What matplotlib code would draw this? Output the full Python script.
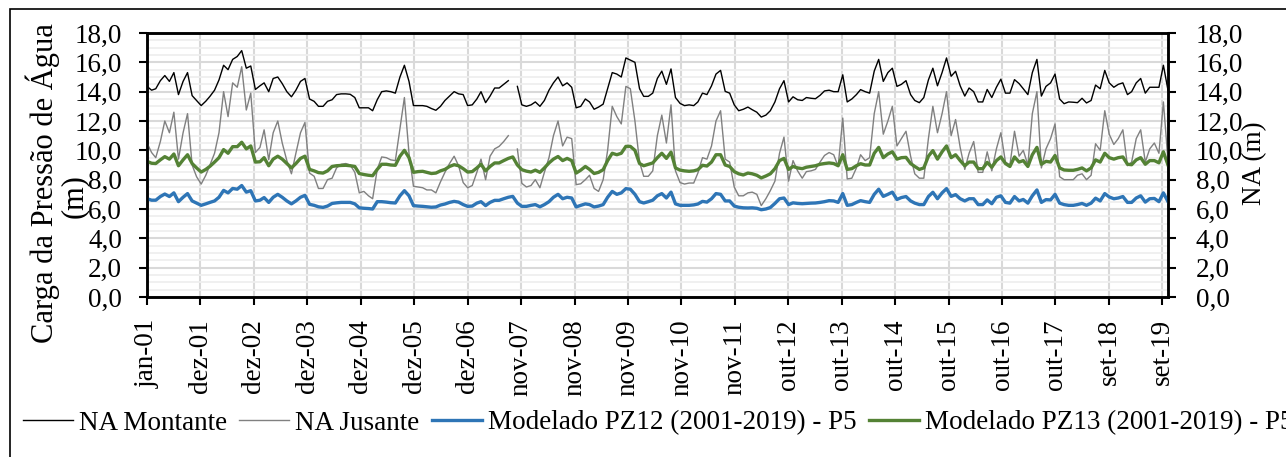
import numpy as np
import pandas as pd
import matplotlib
matplotlib.use("Agg")
import matplotlib.pyplot as plt
from matplotlib.patches import Rectangle

plt.rcParams["font.family"] = ["Liberation Serif", "DejaVu Serif"]

# monthly values, jan/2001 .. nov/2019 (nan = missing reading)
na_montante = [
    14.36, 14.1, 14.2, 14.75, 15.1, 14.7, 15.3, 13.8, 14.7, 15.3, 13.73, 13.4,
    13.05, 13.35, 13.68, 14.1, 14.8, 15.8, 15.5, 16.2, 16.4, 16.8, 15.6, 15.75,
    14.15, 14.4, 14.6, 14.0, 14.9, 15.0, 14.55, 14.0, 13.65, 14.1, 14.7, 14.9,
    13.5, 13.34, 13.0, 13.0, 13.34, 13.45, 13.8, 13.85, 13.85, 13.82, 13.6, 12.9,
    12.9, 12.9, 12.7, 13.45, 14.0, 14.05, 14.0, 13.9, 15.0, 15.8, 14.7, 13.05,
    13.05, 13.05, 13.0, 12.85, 12.73, 13.0, 13.4, 13.7, 14.0, 13.85, 13.8, 13.05,
    13.1, 13.5, 14.0, 13.25, 13.7, 14.25, 14.25, 14.5, 14.75, np.nan, 14.36, 13.1,
    13.0, 13.1, 13.3, 13.0, 13.4, 14.1, 14.6, 15.0, 14.4, 14.6, 14.3, 12.9,
    13.0, 13.5, 13.3, 12.8, 12.95, 13.15, 14.2, 15.3, 15.2, 15.0, 16.3, 16.15,
    16.0, 14.2, 13.68, 13.68, 13.9, 14.9, 15.4, 14.5, 15.55, 13.6, 13.2, 13.05,
    13.1, 13.05, 13.3, 13.9, 13.8, 14.4, 15.2, 15.45, 14.02, 13.9, 13.1, 12.7,
    12.8, 12.95, 12.77, 12.6, 12.27, 12.4, 12.7, 13.3, 14.2, 14.75, 13.3, 13.65,
    13.45, 13.4, 13.6, 13.55, 13.52, 13.75, 14.05, 14.1, 14.0, 14.0, 15.15, 13.3,
    13.5, 13.8, 14.14, 14.0, 13.9, 15.4, 16.2, 14.7, 15.3, 15.6, 14.36, 14.5,
    14.75, 13.8, 13.4, 13.25, 13.6, 14.8, 15.6, 14.4, 15.3, 16.3, 15.05, 15.39,
    14.4, 13.7, 14.25, 14.0, 13.3, 13.3, 14.15, 13.6, 14.3, 14.85, 13.9, 13.9,
    14.82, 14.55, 14.2, 13.8, 15.3, 16.2, 13.7, 14.36, 14.6, 15.2, 13.5, 13.18,
    13.3, 13.28, 13.25, 13.55, 13.23, 13.4, 14.45, 14.2, 15.45, 14.6, 14.3, 14.5,
    14.6, 13.8, 14.0, 14.6, 14.9, 13.9, 14.3, 14.3, 14.3, 15.8, 14.1,
]
na_jusante = [
    10.5, 9.85, 9.5, 10.6, 12.0, 11.2, 12.6, 9.4, 11.2, 12.5, 9.0, 8.2,
    7.7, 8.3, 9.0, 9.8, 11.2, 14.0, 12.3, 14.6, 14.3, 15.7, 12.75, 13.9,
    9.85, 10.2, 11.4, 9.36, 11.2, 12.0, 10.5, 9.3, 8.4, 9.8, 11.2, 11.9,
    8.45, 8.23, 7.4, 7.4, 8.0, 8.1, 8.8, 9.05, 9.1, 9.0, 8.5, 7.1,
    7.2, 6.9, 6.7, 8.7, 9.55, 9.5, 9.35, 9.3, 11.5, 13.6, 9.8, 7.55,
    7.5, 7.45, 7.3, 7.3, 7.1, 7.85, 8.5, 9.1, 9.6, 8.95, 7.8, 7.45,
    7.6, 8.5, 9.4, 8.0, 9.6, 10.1, 10.27, 10.6, 11.0, np.nan, 10.09, 7.75,
    7.5, 7.6, 8.0, 7.45, 8.5, 9.5, 11.0, 12.0, 10.3, 10.9, 10.8, 7.66,
    7.72, 8.0, 8.3, 7.4, 7.2, 8.0, 10.0, 13.0, 12.3, 11.8, 14.36, 14.2,
    12.0, 9.2, 8.23, 8.23, 8.6, 11.0, 12.4, 10.5, 13.1, 8.6, 7.8, 7.7,
    7.77, 7.77, 8.45, 9.5, 9.4, 10.3, 12.0, 12.7, 9.4, 9.2, 7.5, 6.9,
    6.9, 7.1, 7.15, 7.0, 6.23, 6.7, 7.25, 7.9, 9.8, 10.9, 7.9, 9.3,
    8.6, 8.1, 8.55, 8.6, 8.7, 9.2, 9.65, 9.85, 9.7, 8.9, 12.2, 8.05,
    8.1, 8.8, 9.7, 9.3, 9.5, 12.5, 14.0, 11.1, 12.0, 13.0, 10.3, 10.8,
    11.3, 9.6, 8.4, 8.1, 8.1, 10.8, 13.0, 11.2, 12.5, 14.0, 11.0, 12.1,
    10.2, 8.7, 9.8, 10.6, 8.5, 8.5, 9.9, 8.6, 10.1, 11.2, 9.2, 9.0,
    11.3, 9.6, 10.0, 9.0, 12.5, 14.0, 8.8, 10.1, 10.8, 11.8, 8.2, 8.0,
    8.0, 8.0, 8.3, 8.4, 8.0, 8.3, 10.45, 10.0, 12.7, 11.1, 10.4, 10.8,
    11.4, 8.95, 9.2, 10.8, 11.4, 9.2, 10.1, 10.5, 9.8, 13.3, 9.3,
]
pz12 = [
    6.7, 6.6, 6.6, 6.85, 7.02, 6.85, 7.1, 6.5, 6.8, 7.05, 6.55, 6.4,
    6.25, 6.35, 6.45, 6.55, 6.8, 7.27, 7.1, 7.4, 7.35, 7.6, 7.15, 7.25,
    6.55, 6.6, 6.78, 6.45, 6.8, 7.0, 6.8, 6.55, 6.35, 6.55, 6.8, 6.93,
    6.32, 6.25, 6.15, 6.11, 6.2, 6.38, 6.42, 6.45, 6.45, 6.45, 6.35, 6.08,
    6.05, 6.03, 6.0, 6.5, 6.5, 6.47, 6.43, 6.41, 6.9, 7.25, 6.9, 6.23,
    6.2, 6.18, 6.15, 6.12, 6.14, 6.27, 6.34, 6.45, 6.52, 6.47, 6.3, 6.18,
    6.2, 6.4, 6.5, 6.23, 6.45, 6.59, 6.59, 6.7, 6.8, 6.86, 6.4, 6.18,
    6.18, 6.25, 6.3, 6.15, 6.3, 6.5, 6.8, 7.0, 6.7, 6.8, 6.75, 6.14,
    6.25, 6.35, 6.3, 6.14, 6.2, 6.3, 6.8, 7.2, 7.0, 7.1, 7.39, 7.35,
    7.0, 6.5, 6.41, 6.5, 6.6, 6.9, 7.05, 6.75, 7.15, 6.35, 6.25, 6.25,
    6.25, 6.28, 6.34, 6.52, 6.47, 6.7, 7.05, 7.0, 6.55, 6.55, 6.2, 6.12,
    6.08, 6.07, 6.08, 6.05, 5.95, 6.0, 6.1, 6.38, 6.7, 6.75, 6.3, 6.42,
    6.38, 6.36, 6.38, 6.4, 6.41, 6.45, 6.5, 6.57, 6.55, 6.45, 7.05, 6.25,
    6.3, 6.45, 6.57, 6.5, 6.45, 7.0, 7.35, 6.86, 7.0, 7.15, 6.65, 6.78,
    6.85, 6.55, 6.4, 6.3, 6.3, 6.85, 7.14, 6.7, 7.1, 7.39, 6.86, 6.98,
    6.7, 6.55, 6.7, 6.7, 6.3, 6.3, 6.62, 6.36, 6.8, 6.9, 6.45, 6.4,
    6.85, 6.55, 6.65, 6.4, 6.9, 7.3, 6.45, 6.64, 6.62, 7.0, 6.4, 6.3,
    6.25, 6.25, 6.3, 6.38, 6.25, 6.4, 6.74, 6.55, 7.05, 6.82, 6.7, 6.75,
    6.85, 6.45, 6.45, 6.75, 6.9, 6.47, 6.7, 6.72, 6.5, 7.1, 6.5,
]
pz13 = [
    9.25, 9.12, 9.1, 9.35, 9.57, 9.4, 9.75, 8.95, 9.35, 9.7, 9.1, 8.8,
    8.52, 8.7, 8.91, 9.2, 9.5, 10.05, 9.8, 10.25, 10.25, 10.55, 10.1, 10.3,
    9.2, 9.22, 9.5, 8.95, 9.4, 9.6, 9.4, 9.1, 8.8, 9.1, 9.45, 9.6,
    8.7, 8.6, 8.48, 8.45, 8.6, 8.9, 8.95, 8.97, 8.98, 8.95, 8.9, 8.42,
    8.35, 8.3, 8.27, 8.7, 9.05, 9.05, 9.0, 8.98, 9.6, 10.0, 9.5, 8.5,
    8.55, 8.57, 8.5, 8.42, 8.45, 8.6, 8.7, 8.9, 9.02, 8.95, 8.75, 8.52,
    8.55, 8.8, 9.05, 8.6, 8.9, 9.14, 9.14, 9.3, 9.45, 9.55, 9.0, 8.68,
    8.58, 8.52, 8.65, 8.5, 8.8, 9.14, 9.4, 9.58, 9.3, 9.45, 9.3, 8.45,
    8.65, 8.9, 8.7, 8.42, 8.5, 8.68, 9.3, 9.8, 9.7, 9.8, 10.27, 10.27,
    10.0, 9.1, 8.95, 9.05, 9.14, 9.5, 9.8, 9.45, 9.88, 8.8, 8.65, 8.6,
    8.57, 8.6, 8.68, 8.98, 8.93, 9.2, 9.7, 9.7, 9.0, 8.9, 8.55, 8.4,
    8.32, 8.45, 8.4, 8.3, 8.12, 8.25, 8.4, 8.75, 9.3, 9.45, 8.7, 8.9,
    8.8, 8.75, 8.85, 8.9, 8.95, 9.05, 9.1, 9.14, 9.1, 8.95, 9.7, 8.7,
    8.75, 8.95, 9.09, 9.0, 9.0, 9.8, 10.2, 9.5, 9.75, 9.9, 9.4, 9.5,
    9.52, 9.1, 8.9, 8.7, 8.8, 9.6, 9.98, 9.4, 9.9, 10.3, 9.5, 9.7,
    9.3, 8.95, 9.2, 9.2, 8.75, 8.75, 9.18, 8.85, 9.3, 9.55, 9.1, 8.9,
    9.55, 9.2, 9.3, 8.9, 9.7, 10.2, 9.05, 9.25, 9.2, 9.65, 8.8, 8.66,
    8.64, 8.64, 8.7, 8.8, 8.6, 8.8, 9.35, 9.2, 9.8, 9.5, 9.4, 9.5,
    9.55, 9.05, 9.02, 9.35, 9.5, 9.05, 9.3, 9.3, 9.15, 9.9, 9.0,
]

meses_pt = ["jan", "fev", "mar", "abr", "mai", "jun",
            "jul", "ago", "set", "out", "nov", "dez"]

datas = pd.date_range("2001-01-01", periods=len(na_montante), freq="MS")
ticks = [datas[0] + pd.Timedelta(days=360 * k) for k in range(20)]
tick_labels = [f"{meses_pt[t.month - 1]}-{t.strftime('%y')}" for t in ticks]

fig = plt.figure(figsize=(12.86, 4.57), dpi=100)
ax = fig.add_axes([147 / 1286, 1 - 297 / 457, (1168 - 147) / 1286, (297 - 33) / 457])

ax.plot(datas, na_montante, color="black", lw=1.0, label="NA Montante", zorder=3)
ax.plot(datas, na_jusante, color="#808080", lw=1.0, label="NA Jusante", zorder=3)
ax.plot(datas, pz12, color="#2E75B6", lw=2.4, label="Modelado PZ12 (2001-2019) - P5", zorder=4)
ax.plot(datas, pz13, color="#548235", lw=2.4, label="Modelado PZ13 (2001-2019) - P5", zorder=4)

ax.set_xlim(datas[0], datas[-1])
ax.set_ylim(0, 18)
ax.set_yticks(np.arange(0, 18.1, 2))
ax.set_yticks(np.arange(0, 18.1, 0.5), minor=True)
ax.set_yticklabels([f"{v:.1f}".replace(".", ",") for v in np.arange(0, 18.1, 2)])
ax.set_xticks(ticks)
ax.set_xticklabels(tick_labels, rotation=90)

ax.grid(which="major", axis="both", color="#d9d9d9", lw=1.5, zorder=0)
ax.grid(which="minor", axis="y", color="#efefef", lw=1.3, zorder=0)
ax.set_axisbelow(True)
for s in ax.spines.values():
    s.set_linewidth(1.8)
    s.set_color("black")

ax.tick_params(axis="y", which="major", labelsize=19.5, length=6, width=1.5, pad=12)
ax.tick_params(axis="y", which="minor", length=0)
ax.tick_params(axis="x", labelsize=19.5, length=6, width=1.5, pad=10)

ax2 = ax.twinx()
ax2.set_ylim(0, 18)
ax2.set_yticks(np.arange(0, 18.1, 2))
ax2.set_yticklabels([f"{v:.1f}".replace(".", ",") for v in np.arange(0, 18.1, 2)])
ax2.tick_params(axis="y", labelsize=19.5, length=6, width=1.5, pad=14)
for s in ax2.spines.values():
    s.set_linewidth(1.8)

fig.text(43 / 1286, 1 - 183 / 457, "Carga da Pressão de Água", rotation=90,
         ha="center", va="center", fontsize=22)
fig.text(74 / 1286, 1 - 196 / 457, "(m)", rotation=90,
         ha="center", va="center", fontsize=22)
fig.text(1255 / 1286, 1 - 163 / 457, "NA (m)", rotation=90,
         ha="center", va="center", fontsize=19.5)

# the legend runs past the right edge, as in the original
leg = fig.legend(loc="center left", bbox_to_anchor=(23 / 1286, 1 - 423 / 457),
                 ncol=4, frameon=False, fontsize=19.5, handlelength=1.85,
                 handletextpad=0.22, columnspacing=0.45, borderaxespad=0,
                 borderpad=0)

fig.patches.append(Rectangle((9.5 / 1286, -0.1), 1.2, 1.1 - 9.5 / 457,
                             transform=fig.transFigure, fill=False,
                             edgecolor="black", lw=1.2))

fig.savefig("out.png", dpi=100)
